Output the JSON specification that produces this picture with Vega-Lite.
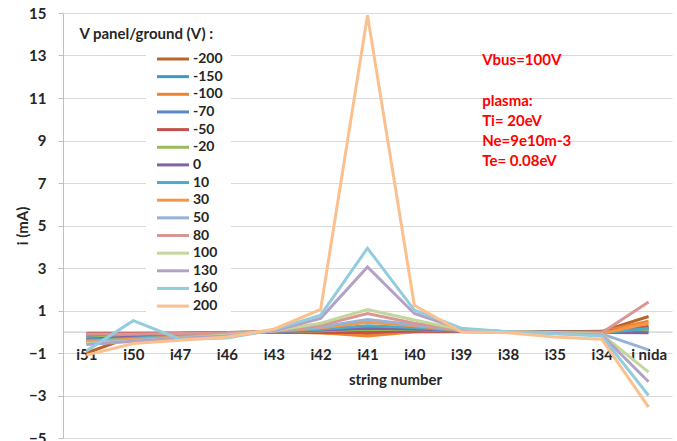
{
  "$schema": "https://vega.github.io/schema/vega-lite/v6.json",
  "autosize": {"type": "none"},
  "width": 609,
  "height": 425,
  "padding": {"left": 63, "top": 13, "right": 5, "bottom": 3},
  "background": "white",
  "config": {
    "view": {"stroke": null},
    "font": "Lato",
    "axis": {"labelFont": "Lato", "titleFont": "Lato", "labelFontWeight": "bold", "titleFontWeight": "bold", "labelColor": "#262626", "titleColor": "#262626", "labelFontSize": 15, "titleFontSize": 15},
    "legend": {"labelFont": "Lato", "labelFontWeight": "bold", "labelFontSize": 14, "labelColor": "#262626"}
  },
  "datasets": {
    "curr": [
      {"V": -200, "s": "i51", "i": -1.0}, {"V": -200, "s": "i50", "i": -0.2}, {"V": -200, "s": "i47", "i": -0.08}, {"V": -200, "s": "i46", "i": -0.04}, {"V": -200, "s": "i43", "i": -0.01}, {"V": -200, "s": "i42", "i": -0.05}, {"V": -200, "s": "i41", "i": -0.1}, {"V": -200, "s": "i40", "i": 0.0}, {"V": -200, "s": "i39", "i": 0.0}, {"V": -200, "s": "i38", "i": 0.0}, {"V": -200, "s": "i35", "i": 0.0}, {"V": -200, "s": "i34", "i": 0.02}, {"V": -200, "s": "i nida", "i": 0.72},
      {"V": -150, "s": "i51", "i": -0.15}, {"V": -150, "s": "i50", "i": -0.12}, {"V": -150, "s": "i47", "i": -0.08}, {"V": -150, "s": "i46", "i": -0.04}, {"V": -150, "s": "i43", "i": -0.01}, {"V": -150, "s": "i42", "i": 0.0}, {"V": -150, "s": "i41", "i": 0.0}, {"V": -150, "s": "i40", "i": 0.02}, {"V": -150, "s": "i39", "i": 0.01}, {"V": -150, "s": "i38", "i": 0.0}, {"V": -150, "s": "i35", "i": 0.0}, {"V": -150, "s": "i34", "i": 0.0}, {"V": -150, "s": "i nida", "i": 0.2},
      {"V": -100, "s": "i51", "i": -0.2}, {"V": -100, "s": "i50", "i": -0.15}, {"V": -100, "s": "i47", "i": -0.1}, {"V": -100, "s": "i46", "i": -0.05}, {"V": -100, "s": "i43", "i": -0.02}, {"V": -100, "s": "i42", "i": -0.05}, {"V": -100, "s": "i41", "i": -0.2}, {"V": -100, "s": "i40", "i": 0.0}, {"V": -100, "s": "i39", "i": 0.01}, {"V": -100, "s": "i38", "i": 0.0}, {"V": -100, "s": "i35", "i": 0.0}, {"V": -100, "s": "i34", "i": 0.0}, {"V": -100, "s": "i nida", "i": 0.5},
      {"V": -70, "s": "i51", "i": -0.25}, {"V": -70, "s": "i50", "i": -0.18}, {"V": -70, "s": "i47", "i": -0.12}, {"V": -70, "s": "i46", "i": -0.06}, {"V": -70, "s": "i43", "i": -0.01}, {"V": -70, "s": "i42", "i": 0.02}, {"V": -70, "s": "i41", "i": 0.05}, {"V": -70, "s": "i40", "i": 0.06}, {"V": -70, "s": "i39", "i": 0.02}, {"V": -70, "s": "i38", "i": 0.0}, {"V": -70, "s": "i35", "i": -0.01}, {"V": -70, "s": "i34", "i": -0.01}, {"V": -70, "s": "i nida", "i": 0.1},
      {"V": -50, "s": "i51", "i": -0.07}, {"V": -50, "s": "i50", "i": -0.07}, {"V": -50, "s": "i47", "i": -0.06}, {"V": -50, "s": "i46", "i": -0.04}, {"V": -50, "s": "i43", "i": -0.02}, {"V": -50, "s": "i42", "i": -0.03}, {"V": -50, "s": "i41", "i": -0.03}, {"V": -50, "s": "i40", "i": 0.03}, {"V": -50, "s": "i39", "i": 0.02}, {"V": -50, "s": "i38", "i": 0.0}, {"V": -50, "s": "i35", "i": 0.0}, {"V": -50, "s": "i34", "i": 0.0}, {"V": -50, "s": "i nida", "i": 0.25},
      {"V": -20, "s": "i51", "i": -0.3}, {"V": -20, "s": "i50", "i": -0.2}, {"V": -20, "s": "i47", "i": -0.15}, {"V": -20, "s": "i46", "i": -0.07}, {"V": -20, "s": "i43", "i": 0.0}, {"V": -20, "s": "i42", "i": 0.05}, {"V": -20, "s": "i41", "i": 0.12}, {"V": -20, "s": "i40", "i": 0.1}, {"V": -20, "s": "i39", "i": 0.03}, {"V": -20, "s": "i38", "i": 0.0}, {"V": -20, "s": "i35", "i": -0.02}, {"V": -20, "s": "i34", "i": -0.02}, {"V": -20, "s": "i nida", "i": 0.05},
      {"V": 0, "s": "i51", "i": -0.35}, {"V": 0, "s": "i50", "i": -0.25}, {"V": 0, "s": "i47", "i": -0.18}, {"V": 0, "s": "i46", "i": -0.08}, {"V": 0, "s": "i43", "i": 0.0}, {"V": 0, "s": "i42", "i": 0.08}, {"V": 0, "s": "i41", "i": 0.17}, {"V": 0, "s": "i40", "i": 0.13}, {"V": 0, "s": "i39", "i": 0.04}, {"V": 0, "s": "i38", "i": 0.0}, {"V": 0, "s": "i35", "i": -0.02}, {"V": 0, "s": "i34", "i": -0.03}, {"V": 0, "s": "i nida", "i": -0.05},
      {"V": 10, "s": "i51", "i": -0.4}, {"V": 10, "s": "i50", "i": -0.3}, {"V": 10, "s": "i47", "i": -0.2}, {"V": 10, "s": "i46", "i": -0.1}, {"V": 10, "s": "i43", "i": 0.02}, {"V": 10, "s": "i42", "i": 0.12}, {"V": 10, "s": "i41", "i": 0.28}, {"V": 10, "s": "i40", "i": 0.2}, {"V": 10, "s": "i39", "i": 0.05}, {"V": 10, "s": "i38", "i": 0.0}, {"V": 10, "s": "i35", "i": -0.03}, {"V": 10, "s": "i34", "i": -0.05}, {"V": 10, "s": "i nida", "i": 0.15},
      {"V": 30, "s": "i51", "i": -0.45}, {"V": 30, "s": "i50", "i": -0.35}, {"V": 30, "s": "i47", "i": -0.25}, {"V": 30, "s": "i46", "i": -0.12}, {"V": 30, "s": "i43", "i": 0.02}, {"V": 30, "s": "i42", "i": 0.18}, {"V": 30, "s": "i41", "i": 0.45}, {"V": 30, "s": "i40", "i": 0.28}, {"V": 30, "s": "i39", "i": 0.06}, {"V": 30, "s": "i38", "i": 0.0}, {"V": 30, "s": "i35", "i": -0.04}, {"V": 30, "s": "i34", "i": -0.08}, {"V": 30, "s": "i nida", "i": 0.4},
      {"V": 50, "s": "i51", "i": -0.5}, {"V": 50, "s": "i50", "i": -0.4}, {"V": 50, "s": "i47", "i": -0.3}, {"V": 50, "s": "i46", "i": -0.15}, {"V": 50, "s": "i43", "i": 0.03}, {"V": 50, "s": "i42", "i": 0.22}, {"V": 50, "s": "i41", "i": 0.58}, {"V": 50, "s": "i40", "i": 0.33}, {"V": 50, "s": "i39", "i": 0.07}, {"V": 50, "s": "i38", "i": 0.0}, {"V": 50, "s": "i35", "i": -0.05}, {"V": 50, "s": "i34", "i": -0.1}, {"V": 50, "s": "i nida", "i": -0.85},
      {"V": 80, "s": "i51", "i": -0.1}, {"V": 80, "s": "i50", "i": -0.1}, {"V": 80, "s": "i47", "i": -0.08}, {"V": 80, "s": "i46", "i": -0.05}, {"V": 80, "s": "i43", "i": 0.03}, {"V": 80, "s": "i42", "i": 0.3}, {"V": 80, "s": "i41", "i": 0.86}, {"V": 80, "s": "i40", "i": 0.4}, {"V": 80, "s": "i39", "i": 0.08}, {"V": 80, "s": "i38", "i": 0.0}, {"V": 80, "s": "i35", "i": -0.05}, {"V": 80, "s": "i34", "i": -0.05}, {"V": 80, "s": "i nida", "i": 1.4},
      {"V": 100, "s": "i51", "i": -0.55}, {"V": 100, "s": "i50", "i": -0.45}, {"V": 100, "s": "i47", "i": -0.3}, {"V": 100, "s": "i46", "i": -0.15}, {"V": 100, "s": "i43", "i": 0.05}, {"V": 100, "s": "i42", "i": 0.4}, {"V": 100, "s": "i41", "i": 1.05}, {"V": 100, "s": "i40", "i": 0.55}, {"V": 100, "s": "i39", "i": 0.1}, {"V": 100, "s": "i38", "i": 0.0}, {"V": 100, "s": "i35", "i": -0.05}, {"V": 100, "s": "i34", "i": -0.12}, {"V": 100, "s": "i nida", "i": -1.9},
      {"V": 130, "s": "i51", "i": -0.6}, {"V": 130, "s": "i50", "i": -0.45}, {"V": 130, "s": "i47", "i": -0.3}, {"V": 130, "s": "i46", "i": -0.2}, {"V": 130, "s": "i43", "i": 0.05}, {"V": 130, "s": "i42", "i": 0.63}, {"V": 130, "s": "i41", "i": 3.05}, {"V": 130, "s": "i40", "i": 0.86}, {"V": 130, "s": "i39", "i": 0.12}, {"V": 130, "s": "i38", "i": 0.0}, {"V": 130, "s": "i35", "i": -0.08}, {"V": 130, "s": "i34", "i": -0.15}, {"V": 130, "s": "i nida", "i": -2.35},
      {"V": 160, "s": "i51", "i": -0.9}, {"V": 160, "s": "i50", "i": 0.52}, {"V": 160, "s": "i47", "i": -0.35}, {"V": 160, "s": "i46", "i": -0.3}, {"V": 160, "s": "i43", "i": 0.1}, {"V": 160, "s": "i42", "i": 0.78}, {"V": 160, "s": "i41", "i": 3.93}, {"V": 160, "s": "i40", "i": 1.02}, {"V": 160, "s": "i39", "i": 0.17}, {"V": 160, "s": "i38", "i": 0.0}, {"V": 160, "s": "i35", "i": -0.1}, {"V": 160, "s": "i34", "i": -0.2}, {"V": 160, "s": "i nida", "i": -3.0},
      {"V": 200, "s": "i51", "i": -1.1}, {"V": 200, "s": "i50", "i": -0.55}, {"V": 200, "s": "i47", "i": -0.4}, {"V": 200, "s": "i46", "i": -0.25}, {"V": 200, "s": "i43", "i": 0.12}, {"V": 200, "s": "i42", "i": 1.05}, {"V": 200, "s": "i41", "i": 14.9}, {"V": 200, "s": "i40", "i": 1.25}, {"V": 200, "s": "i39", "i": 0.0}, {"V": 200, "s": "i38", "i": -0.05}, {"V": 200, "s": "i35", "i": -0.25}, {"V": 200, "s": "i34", "i": -0.35}, {"V": 200, "s": "i nida", "i": -3.55}
    ],
    "notes": [
      {"s": "i39", "i": 12.78, "label": "Vbus=100V"},
      {"s": "i39", "i": 10.84, "label": "plasma:"},
      {"s": "i39", "i": 9.9, "label": "Ti= 20eV"},
      {"s": "i39", "i": 8.96, "label": "Ne=9e10m-3"},
      {"s": "i39", "i": 8.02, "label": "Te= 0.08eV"}
    ],
    "head": [
      {"s": "i51", "i": 13.99, "label": "V panel/ground (V) :"}
    ]
  },
  "encoding": {
    "x": {
      "field": "s", "type": "nominal",
      "sort": ["i51", "i50", "i47", "i46", "i43", "i42", "i41", "i40", "i39", "i38", "i35", "i34", "i nida"],
      "scale": {"type": "point", "padding": 0.5},
      "axis": {
        "title": "string number", "labelAngle": 0, "grid": false, "ticks": false, "tickSize": 0,
        "labelPadding": 16, "titlePadding": 10, "domainColor": "#BFBFBF",
        "offset": -106.4, "titleX": 332
      }
    },
    "y": {
      "field": "i", "type": "quantitative",
      "scale": {"domain": [-5, 15], "nice": false, "zero": false},
      "axis": {
        "title": "i (mA)", "values": [-5, -3, -1, 1, 3, 5, 7, 9, 11, 13, 15],
        "grid": true, "gridColor": "#D9D9D9", "domainColor": "#BFBFBF", "tickColor": "#BFBFBF",
        "tickSize": 5, "labelPadding": 12, "titlePadding": -2
      }
    }
  },
  "layer": [
    {
      "data": {"name": "curr"},
      "mark": {"type": "line", "strokeWidth": 3},
      "encoding": {
        "color": {
          "field": "V", "type": "nominal",
          "scale": {
            "domain": [-200, -150, -100, -70, -50, -20, 0, 10, 30, 50, 80, 100, 130, 160, 200],
            "range": ["#B8652A", "#3A9BBF", "#EE8533", "#5B86C8", "#C4514E", "#9BBB59", "#8064A2", "#4BACC6", "#F79646", "#95B3D7", "#D99694", "#C3D69B", "#B3A2C7", "#93CDDD", "#FAC090"]
          },
          "legend": {
            "title": null, "orient": "none", "legendX": 83, "legendY": 31,
            "symbolType": "M-4,0H4", "symbolSize": 64, "symbolStrokeWidth": 3,
            "symbolOffset": 12, "labelOffset": 13, "rowPadding": 3.65, "padding": 8, "fillColor": "white"
          }
        }
      }
    },
    {
      "data": {"name": "notes"},
      "mark": {"type": "text", "align": "left", "baseline": "middle", "dx": 21, "font": "Lato", "fontWeight": "bold", "fontSize": 15, "color": "#FF0000"},
      "encoding": {"text": {"field": "label"}}
    },
    {
      "data": {"name": "head"},
      "mark": {"type": "text", "align": "left", "baseline": "middle", "dx": -7, "font": "Lato", "fontWeight": "bold", "fontSize": 15, "color": "#262626"},
      "encoding": {"text": {"field": "label"}}
    }
  ]
}
